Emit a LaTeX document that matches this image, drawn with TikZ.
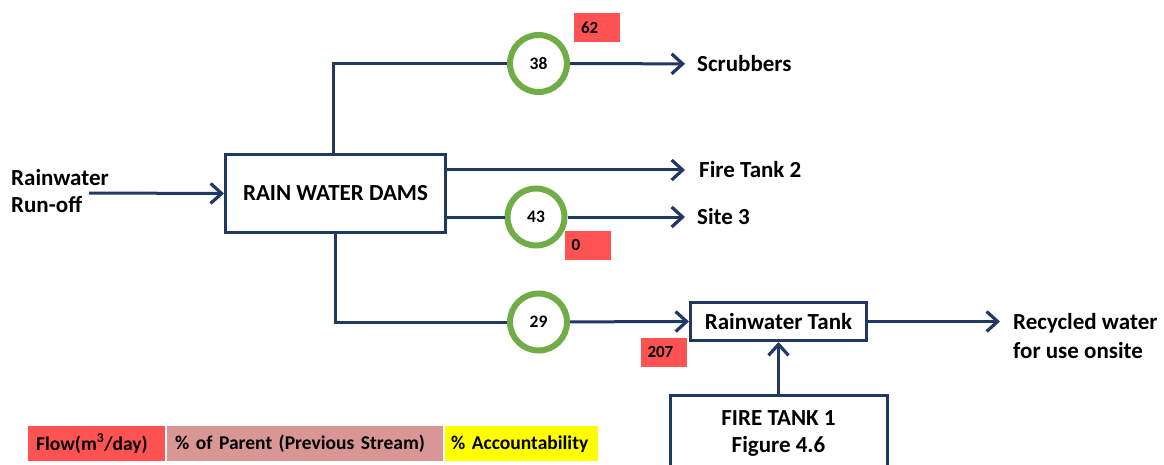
\documentclass[tikz,border=0pt]{standalone}
\usepackage{fontspec}
\setmainfont{Carlito}
\usetikzlibrary{arrows.meta}

\definecolor{flowline}{RGB}{31,56,100}
\definecolor{ringgreen}{RGB}{112,173,71}
\definecolor{flowred}{RGB}{255,82,82}
\definecolor{parentpink}{RGB}{217,150,148}
\definecolor{accyellow}{RGB}{255,255,0}

\tikzset{
  flow/.style={draw=flowline, line width=3pt},
  arr/.style={flow, -{Straight Barb[length=11pt,width=20pt,line width=3.2pt]}},
  unitbox/.style={draw=flowline, line width=3pt, fill=white, font=\bfseries\fontsize{23}{27}\selectfont, align=center},
  ring/.style={circle, draw=ringgreen, line width=6pt, fill=white, minimum size=57pt, inner sep=0pt, font=\bfseries\fontsize{17.5}{20}\selectfont},
  lbl/.style={inner sep=0pt, font=\bfseries\fontsize{23}{27}\selectfont, align=left},
  flowtag/.style={fill=flowred, minimum height=29pt, text width=32pt, inner xsep=7pt, inner ysep=0pt, align=left, font=\bfseries\fontsize{17}{20}\selectfont},
  key/.style={minimum height=35pt, inner xsep=8pt, inner ysep=0pt, align=left, anchor=north west, font=\bfseries\fontsize{19.5}{23}\selectfont}
}

\begin{document}
\begin{tikzpicture}[x=1pt,y=-1pt]
\useasboundingbox (0,0) rectangle (1164,465);
\clip (0,0) rectangle (1164,465);

% process units
\node[unitbox, minimum width=220pt, minimum height=77pt] (dams) at (335.5,193.5) {RAIN WATER DAMS};
\node[unitbox, minimum width=176pt, minimum height=38pt] (tank) at (778.5,321.5) {Rainwater Tank};
\node[unitbox, minimum width=217pt, minimum height=76pt, inner ysep=0pt, anchor=north] (fire1) at (778.5,393.5) {FIRE TANK 1\\Figure 4.6};

% split percentages
\node[ring] (c38) at (538.5,63.5) {38};
\node[ring] (c43) at (536,217) {43};
\node[ring] (c29) at (538.5,322) {29};

% end points
\node[lbl, anchor=north west] (runoff) at (11,169) {Rainwater\\Run-off};
\coordinate (inlet) at (89,193);
\node[lbl, anchor=west] (scrub) at (697,64) {Scrubbers};
\node[lbl, anchor=west] (ft2) at (699,170) {Fire Tank 2};
\node[lbl, anchor=west] (site3) at (697,217) {Site 3};
\node[lbl, anchor=north west, font=\bfseries\fontsize{23}{29}\selectfont] (recyc) at (1013,313) {Recycled water\\for use onsite};

% connectors
\draw[arr] (inlet) -- (dams.west);
\draw[flow] ([xshift=-2pt]dams.north) |- (c38);
\draw[arr, shorten >=12pt] (c38) -- (scrub);
\draw[arr, shorten >=14pt] (dams.east |- ft2) -- (ft2.west);
\draw[flow] (dams.east |- c43) -- (c43);
\draw[arr, shorten >=12pt] (c43) -- (site3);
\draw[flow] (dams.south) |- (c29);
\draw[arr] (c29) -- (tank.west);
\draw[arr, shorten >=13pt] (tank.east) -- (tank.east -| recyc.west);
\draw[arr] (fire1.north) -- (tank.south);

% flow rates
\node[flowtag] (f62) at (597,28) {62};
\node[flowtag] (f0) at (587.5,245) {0};
\node[flowtag] (f207) at (663.5,352) {207};

% key
\node[key, fill=flowred, minimum width=137pt, text width=121pt] (k1) at (28,426) {\mbox{Flow(m\textsuperscript{3}/day)}};
\node[key, fill=parentpink, minimum width=276pt, text width=260pt] (k2) at (167,426) {\mbox{\% of Parent (Previous Stream)}};
\node[key, fill=accyellow, minimum width=153pt, text width=141pt, inner xsep=6pt] (k3) at (445,426) {\mbox{\% Accountability}};
\end{tikzpicture}
\end{document}
